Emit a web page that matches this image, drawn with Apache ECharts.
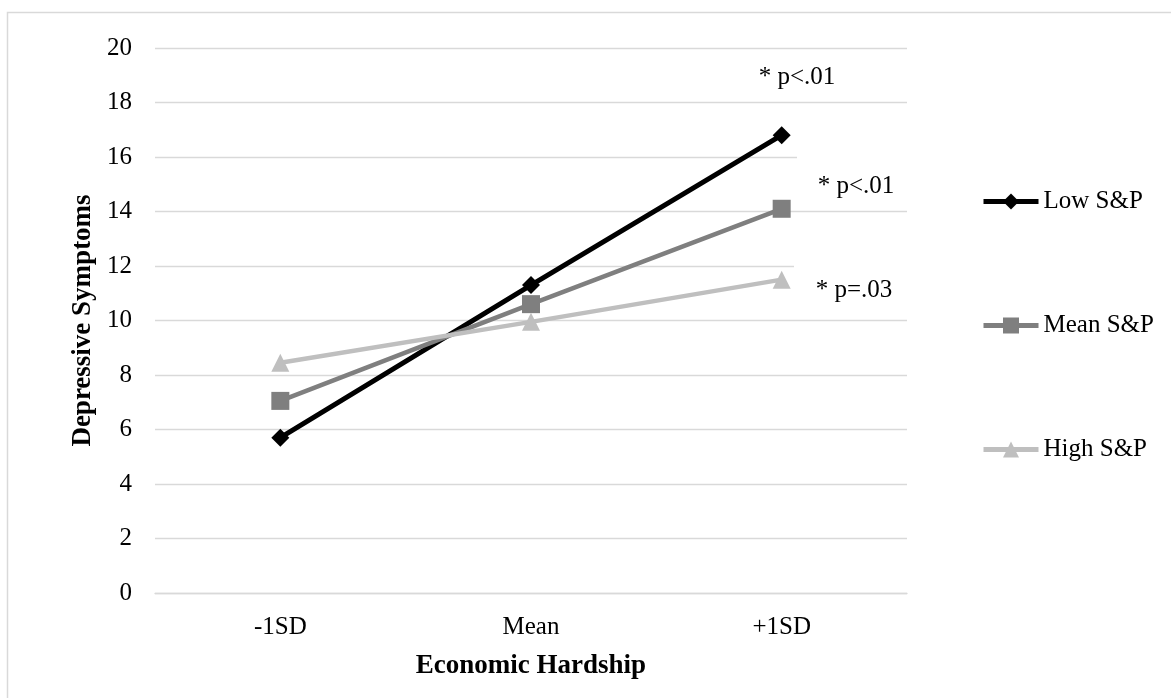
<!DOCTYPE html>
<html>
<head>
<meta charset="utf-8">
<script src="https://cdn.jsdelivr.net/npm/echarts@6/dist/echarts.min.js"></script>
<style>
html,body{margin:0;padding:0;background:#fff;}
#chart{width:1171px;height:698px;}
</style>
</head>
<body>
<div id="chart"></div>
<script>
const categories = ['-1SD', 'Mean', '+1SD'];
const lowSP = [5.7, 11.3, 16.8];
const meanSP = [7.05, 10.6, 14.1];
const highSP = [8.45, 9.95, 11.5];
const seriesNames = ['Low S&P', 'Mean S&P', 'High S&P'];
const yMin = 0, yMax = 20, yStep = 2;
const xTitle = 'Economic Hardship';
const yTitle = 'Depressive Symptoms';
const notes = ['* p<.01', '* p<.01', '* p=.03'];

const FONT = "'Liberation Serif', 'Times New Roman', serif";
const chart = echarts.init(document.getElementById('chart'), null, {renderer: 'canvas'});

function lineSeries(name, data, color, symbol, width) {
  return {
    name: name, type: 'line', data: data,
    symbol: symbol, symbolSize: 18, showAllSymbol: true,
    lineStyle: {color: color, width: width},
    itemStyle: {color: color, borderWidth: 0},
    emphasis: {disabled: true}, animation: false
  };
}

chart.setOption({
  animation: false,
  backgroundColor: '#fff',
  grid: {left: 155, right: 264, top: 48, bottom: 105, containLabel: false},
  xAxis: {
    type: 'category', data: categories, boundaryGap: true,
    axisLine: {show: true, lineStyle: {color: '#d9d9d9', width: 1.3}},
    axisTick: {show: false},
    axisLabel: {margin: 22, fontFamily: FONT, fontSize: 25, color: '#000'},
    name: xTitle, nameLocation: 'middle', nameGap: 60,
    nameTextStyle: {fontFamily: FONT, fontSize: 27, fontWeight: 'bold', color: '#000'}
  },
  yAxis: {
    type: 'value', min: yMin, max: yMax, interval: yStep,
    axisLine: {show: false}, axisTick: {show: false},
    splitLine: {show: true, lineStyle: {color: '#d9d9d9', width: 1.3}},
    axisLabel: {margin: 23, fontFamily: FONT, fontSize: 25, color: '#000'},
    name: yTitle, nameLocation: 'middle', nameGap: 38, nameRotate: 90,
    nameTextStyle: {fontFamily: FONT, fontSize: 27, fontWeight: 'bold', color: '#000'}
  },
  legend: {
    orient: 'vertical', left: 976, top: 184, itemGap: 99,
    itemWidth: 55, itemHeight: 20,
    lineStyle: {width: 5},
    textStyle: {fontFamily: FONT, fontSize: 25, color: '#000'},
    data: seriesNames
  },
  series: [
    lineSeries(seriesNames[0], lowSP, '#000000', 'diamond', 5),
    lineSeries(seriesNames[1], meanSP, '#7f7f7f', 'rect', 4.5),
    lineSeries(seriesNames[2], highSP, '#bfbfbf', 'triangle', 4.5)
  ],
  graphic: [
    {type: 'rect', shape: {x: 7.5, y: 12.5, width: 1200, height: 800}, style: {fill: null, stroke: '#d9d9d9', lineWidth: 1.5}, silent: true, z: 0},
    {type: 'rect', shape: {x: 797, y: 155, width: 112, height: 54}, style: {fill: '#fff'}, z: 1, silent: true},
    {type: 'rect', shape: {x: 794, y: 263, width: 115, height: 54}, style: {fill: '#fff'}, z: 1, silent: true},
    {type: 'text', x: 797, y: 77, z: 5, style: {text: notes[0], font: "25px " + FONT, fill: '#000', textAlign: 'center', textVerticalAlign: 'middle'}},
    {type: 'text', x: 856, y: 186, z: 5, style: {text: notes[1], font: "25px " + FONT, fill: '#000', textAlign: 'center', textVerticalAlign: 'middle'}},
    {type: 'text', x: 854, y: 290, z: 5, style: {text: notes[2], font: "25px " + FONT, fill: '#000', textAlign: 'center', textVerticalAlign: 'middle'}}
  ]
});
</script>
</body>
</html>
